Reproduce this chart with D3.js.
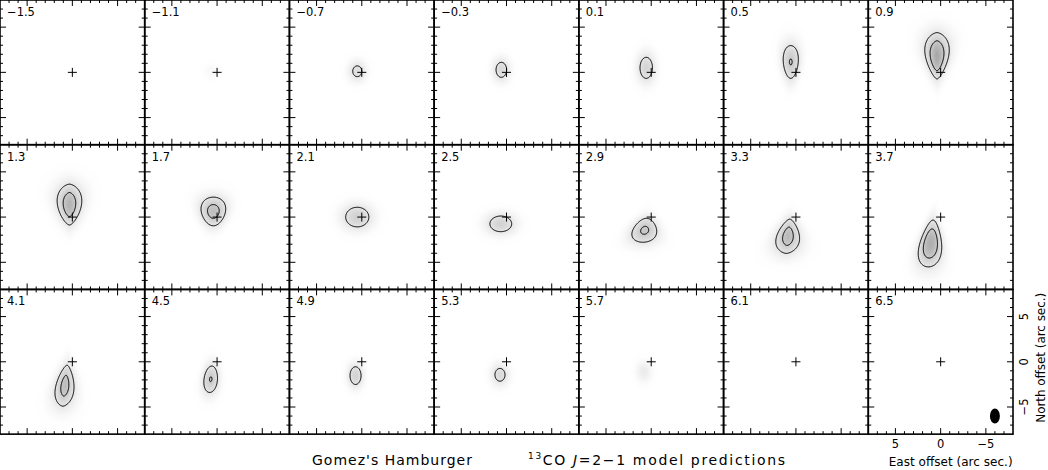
<!DOCTYPE html>
<html><head><meta charset="utf-8">
<script src="https://cdn.jsdelivr.net/npm/d3@7"></script>
<style>
body{margin:0;background:#fff}
svg{display:block}
text{font-family:"DejaVu Sans",sans-serif;fill:#000}
</style>
</head><body>
<svg id="chart" width="1048" height="470"></svg>
<script>
// ---- data (offsets in arc sec) ----
const velocities  = [-1.5,-1.1,-0.7,-0.3,0.1,0.5,0.9, 1.3,1.7,2.1,2.5,2.9,3.3,3.7, 4.1,4.5,4.9,5.3,5.7,6.1,6.5];
const peak        = [0,0.3,1.3,1.5,1.6,2.05,3.3, 2.9,2.46,1.8,1.7,2.18,2.65,3.1, 2.55,2.05,1.7,1.4,0.8,0,0];
const centerEast  = [0,0.6,0.5,0.57,0.55,0.57,0.4, 0.32,0.41,0.5,0.63,0.72,0.87,1.1, 0.82,0.7,0.69,0.72,0.8,0,0];
const centerNorth = [0,0.1,0.12,0.28,0.5,1.15,1.83, 1.38,0.62,0.0,-0.75,-1.46,-2.12,-2.92, -2.64,-1.93,-1.53,-1.44,-1.1,0,0];
const widthEast   = [1,0.6,0.69,0.65,0.71,0.69,0.75, 0.83,1.0,1.18,1.17,1.06,0.83,0.8, 0.675,0.62,0.59,0.68,0.6,1,1];
const widthNorth  = [1,0.6,0.82,0.92,1.2,1.51,1.66, 1.55,1.18,1.0,0.84,1.06,1.36,1.72, 1.66,1.22,0.95,0.86,0.8,1,1];
const profileEast = [2,2,2,2,2,2,1.6, 1.6,2,2,2,2,1.6,2, 1.6,2,2,2,2,2,2];
const taper       = [0,0,0,0,0,0.06,0.105, 0.091,0.12,0,0,-0.2,-0.138,-0.12, -0.093,-0.03,0,0,0,0,0];
const shear       = [0,0,0,0,0,0,0, 0,0,0,0,-0.15,-0.1,-0.1, -0.1,-0.08,0,0,0,0,0];
const contourLevels = [1, 2];
const majorTicks = [-5, 0, 5];
const minorTicks = [-7,-6,-5,-4,-3,-2,-1,0,1,2,3,4,5,6,7];
const axisTickLabels = ["5", "0", "\u22125"];
const beamEast = -6, beamNorth = -6, beamMajor = 1.66, beamMinor = 1.1;
const xTitle = "East offset (arc sec.)";
const yTitle = "North offset (arc sec.)";
const sourceTitle = "Gomez's Hamburger";

// ---- drawing ----
const svg = d3.select("#chart");
const ncol = 7, W = 1013 / 7, ext = 8, step = 0.08;
const nx = Math.round(2 * ext / step) + 1;
const grey = d3.scaleLinear().domain([0, 3.3]).range([255, 168]);
const greyCol = v => { const g = Math.round(Math.max(120, grey(v))); return `rgb(${g},${g},${g})`; };
const fmt = v => (v < 0 ? "\u2212" : "") + Math.abs(v).toFixed(1);

velocities.forEach((v, k) => {
  const c = k % ncol, r = Math.floor(k / ncol);
  const x = d3.scaleLinear().domain([ext, -ext]).range([c * W, (c + 1) * W]);
  const y = d3.scaleLinear().domain([ext, -ext]).range([r * W, (r + 1) * W]);
  const g = svg.append("g");
  const A = peak[k];
  if (A > 0) {
    const vals = new Float64Array(nx * nx);
    const q = profileEast[k];
    for (let j = 0; j < nx; j++) {
      const n = ext - j * step;
      const dn = n - centerNorth[k];
      const sE = Math.max(0.15, widthEast[k] + taper[k] * dn);
      const ec = centerEast[k] + shear[k] * dn;
      for (let i = 0; i < nx; i++) {
        const e = ext - i * step;
        const de = Math.abs(e - ec) / sE;
        vals[j * nx + i] = A * Math.exp(-0.5 * (dn / widthNorth[k]) ** 2 - 0.5 * Math.pow(de, q));
      }
    }
    const proj = d3.geoTransform({
      point(px, py) { this.stream.point(x(ext - (px - 0.5) * step), y(ext - (py - 0.5) * step)); }
    });
    const path = d3.geoPath(proj);
    const bands = d3.contours().size([nx, nx]).thresholds(d3.range(0.03, A, 0.06))(vals);
    g.selectAll("path.band").data(bands).join("path").attr("class", "band")
      .attr("d", path).attr("fill", d => greyCol(d.value));
    const lines = d3.contours().size([nx, nx]).thresholds(contourLevels)(vals).filter(d => d.coordinates.length);
    g.selectAll("path.cline").data(lines).join("path").attr("class", "cline")
      .attr("d", path).attr("fill", "none").attr("stroke", "#000").attr("stroke-width", 1);
  }
  // central cross
  g.append("line").attr("x1", x(0.5)).attr("x2", x(-0.5)).attr("y1", y(0)).attr("y2", y(0)).attr("stroke", "#000");
  g.append("line").attr("x1", x(0)).attr("x2", x(0)).attr("y1", y(0.5)).attr("y2", y(-0.5)).attr("stroke", "#000");
  // ticks (inward, all four sides)
  const [x0, x1] = x.range(), [y0, y1] = y.range();
  minorTicks.forEach(t => {
    const len = majorTicks.includes(t) ? 6 : 3;
    g.append("line").attr("x1", x(t)).attr("x2", x(t)).attr("y1", y1).attr("y2", y1 - len).attr("stroke", "#000");
    g.append("line").attr("x1", x(t)).attr("x2", x(t)).attr("y1", y0).attr("y2", y0 + len).attr("stroke", "#000");
    g.append("line").attr("y1", y(t)).attr("y2", y(t)).attr("x1", x0).attr("x2", x0 + len).attr("stroke", "#000");
    g.append("line").attr("y1", y(t)).attr("y2", y(t)).attr("x1", x1).attr("x2", x1 - len).attr("stroke", "#000");
  });
  g.append("rect").attr("x", x0).attr("y", y0).attr("width", x1 - x0).attr("height", y1 - y0)
    .attr("fill", "none").attr("stroke", "#000").attr("stroke-width", 1.6);
  g.append("text").attr("x", x0 + 7).attr("y", y0 + 16).attr("font-size", 11.5).text(fmt(v));

  if (k === velocities.length - 1) {
    // beam
    g.append("ellipse").attr("cx", x(beamEast)).attr("cy", y(beamNorth))
      .attr("rx", Math.abs(x(beamMinor / 2) - x(0))).attr("ry", Math.abs(y(beamMajor / 2) - y(0))).attr("fill", "#000");
    // axis labels
    majorTicks.slice().reverse().forEach((t, i) => {
      g.append("text").attr("x", x(t)).attr("y", y1 + 14).attr("font-size", 11.5)
        .attr("text-anchor", "middle").text(axisTickLabels[i]);
      g.append("text").attr("transform", `translate(${x1 + 15},${y(t)}) rotate(-90)`).attr("font-size", 11.5)
        .attr("text-anchor", "middle").text(axisTickLabels[i]);
    });
    g.append("text").attr("x", (x0 + x1) / 2 + 10).attr("y", y1 + 32).attr("font-size", 12)
      .attr("text-anchor", "middle").attr("textLength", 124).attr("lengthAdjust", "spacing").text(xTitle);
    g.append("text").attr("transform", `translate(${x1 + 32},${(y0 + y1) / 2 - 4}) rotate(-90)`).attr("font-size", 12)
      .attr("text-anchor", "middle").attr("textLength", 130).attr("lengthAdjust", "spacing").text(yTitle);
  }
});

// bottom captions
svg.append("text").attr("x", 312).attr("y", 465).attr("font-size", 14)
  .attr("textLength", 160).attr("lengthAdjust", "spacing").text(sourceTitle);
const t2 = svg.append("text").attr("x", 528).attr("y", 465).attr("font-size", 14)
  .attr("textLength", 257).attr("lengthAdjust", "spacing");
t2.append("tspan").attr("font-size", 9).attr("dy", -6).text("13");
t2.append("tspan").attr("dy", 6).text("CO ");
t2.append("tspan").attr("font-style", "italic").text("J");
t2.append("tspan").text("=2\u22121 model predictions");
</script>
</body></html>
